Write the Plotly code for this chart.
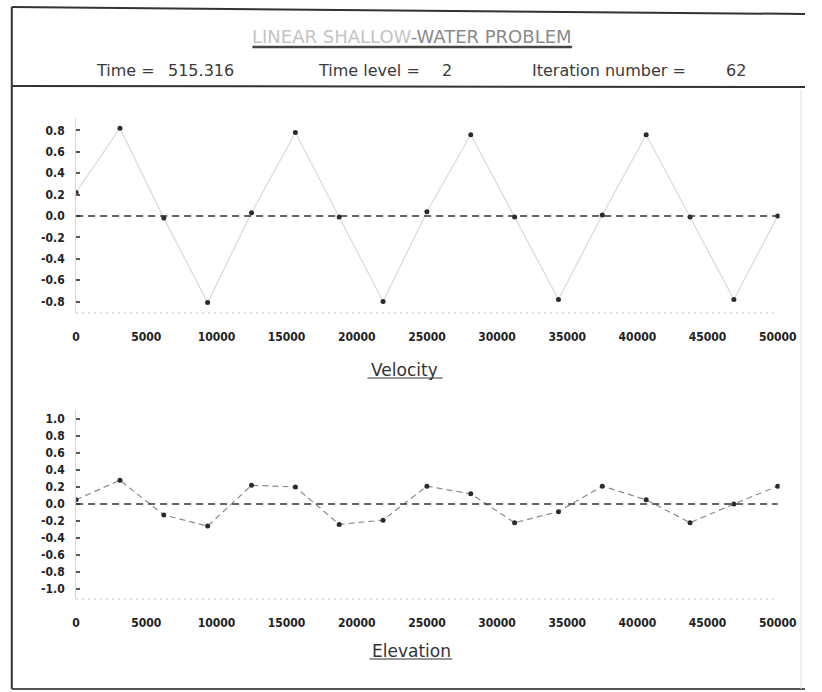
import plotly.graph_objects as go

# ---------------- data ----------------
x_nodes = [0, 3125, 6250, 9375, 12500, 15625, 18750, 21875, 25000,
           28125, 31250, 34375, 37500, 40625, 43750, 46875, 50000]
velocity = [0.22, 0.82, -0.02, -0.81, 0.03, 0.78, -0.01, -0.80, 0.04,
            0.76, -0.01, -0.78, 0.01, 0.76, -0.01, -0.78, 0.00]
elevation = [0.05, 0.28, -0.13, -0.26, 0.22, 0.20, -0.24, -0.19, 0.21,
             0.12, -0.22, -0.09, 0.21, 0.05, -0.22, 0.00, 0.21]

x_ticks = [0, 5000, 10000, 15000, 20000, 25000, 30000, 35000, 40000, 45000, 50000]
x_tick_text = ["0", "5000", "10000", "15000", "20000", "25000", "30000",
               "35000", "40000", "45000", "50000"]
v_ticks = [-0.8, -0.6, -0.4, -0.2, 0.0, 0.2, 0.4, 0.6, 0.8]
v_tick_text = ["-0.8", "-0.6", "-0.4", "-0.2", "0.0", "0.2", "0.4", "0.6", "0.8"]
e_ticks = [-1.0, -0.8, -0.6, -0.4, -0.2, 0.0, 0.2, 0.4, 0.6, 0.8, 1.0]
e_tick_text = ["-1.0", "-0.8", "-0.6", "-0.4", "-0.2", "0.0", "0.2", "0.4",
               "0.6", "0.8", "1.0"]

title_faint = "LINEAR SHALLOW"
title_dark = "-WATER PROBLEM"
header = [("Time =", 92), ("515.316", 166), ("Time level =", 320), ("2", 447),
          ("Iteration number =", 540), ("62", 739)]

# ---------------- geometry helpers ----------------
W, H = 822, 692
def px(x):
    return x / W
def py(y):
    return 1 - y / H

INK = "#2b2b2b"
TICKFONT = dict(family="DejaVu Sans Condensed", size=12, color="#222222", weight="bold")
TXTFONT = dict(family="DejaVu Sans", size=16, color="#3a3a3a")

fig = go.Figure()

fig.add_trace(go.Scatter(
    x=x_nodes, y=velocity, mode="lines+markers", xaxis="x", yaxis="y",
    line=dict(color="#dadada", width=1.2),
    marker=dict(color=INK, size=5), hoverinfo="skip"))
fig.add_trace(go.Scatter(
    x=x_nodes, y=elevation, mode="lines+markers", xaxis="x2", yaxis="y2",
    line=dict(color="#8c8c8c", width=1.2, dash="6px,4px"),
    marker=dict(color=INK, size=5), hoverinfo="skip"))

xcommon = dict(domain=[px(74), px(796)], range=[0, 50139], tickmode="array",
               tickvals=x_ticks, ticktext=x_tick_text, showgrid=False,
               zeroline=False, showline=False, ticks="", tickfont=TICKFONT,
               ticklabelstandoff=15, fixedrange=True)
ycommon = dict(showgrid=False, zeroline=False, showline=True, linecolor="#d4d4d4",
               linewidth=1, ticks="inside", ticklen=4, tickwidth=2,
               tickcolor="#555555", tickfont=TICKFONT, ticklabelstandoff=8,
               tickmode="array", fixedrange=True)

fig.update_layout(
    width=W, height=H, margin=dict(l=0, r=0, t=0, b=0),
    paper_bgcolor="white", plot_bgcolor="white", showlegend=False,
    xaxis=dict(anchor="y", **xcommon),
    yaxis=dict(anchor="x", domain=[py(313), py(118)], range=[-0.907, 0.916],
               tickvals=v_ticks, ticktext=v_tick_text, **ycommon),
    xaxis2=dict(anchor="y2", **xcommon),
    yaxis2=dict(anchor="x2", domain=[py(599), py(410)], range=[-1.118, 1.106],
                tickvals=e_ticks, ticktext=e_tick_text, **ycommon),
)

shapes = []
# zero reference lines
for xr, yr in (("x", "y"), ("x2", "y2")):
    shapes.append(dict(type="line", xref=xr, yref=yr, x0=0, x1=50000, y0=0, y1=0,
                       line=dict(color="#333333", width=1.6, dash="7px,5px")))
    shapes.append(dict(type="line", xref=xr, yref=yr + " domain", x0=0, x1=50000,
                       y0=0, y1=0, line=dict(color="#bdbdbd", width=1.2, dash="2px,4px")))

# frame of the printout
def pline(x0, y0, x1, y1, color="#333333", width=2):
    shapes.append(dict(type="line", xref="paper", yref="paper",
                       x0=px(x0), y0=py(y0), x1=px(x1), y1=py(y1),
                       line=dict(color=color, width=width)))

pline(8, 7, 822, 14)          # top
pline(8, 86, 822, 87)         # header separator
pline(8, 7, 8, 689)           # left
pline(8, 689, 822, 689, "#555555", 2)  # bottom
pline(818, 90, 818, 689, "#dddddd", 1)  # faint right edge
pline(255, 47, 583, 47, "#444444", 2.5)  # title underline
pline(373, 378, 450, 378, "#333333", 1.2)  # Velocity underline
pline(375, 659, 460, 659, "#333333", 1.2)  # Elevation underline
fig.update_layout(shapes=shapes)

ann = []
ann.append(dict(x=px(419), y=py(37), xref="paper", yref="paper", showarrow=False,
                xanchor="center", yanchor="middle",
                text=f"<span style='color:#c4c4c4'>{title_faint}</span>"
                     f"<span style='color:#8a8a8a'>{title_dark}</span>",
                font=dict(family="DejaVu Sans", size=18, color="#999999")))
for txt, xl in header:
    ann.append(dict(x=px(xl), y=py(70), xref="paper", yref="paper", showarrow=False,
                    xanchor="left", yanchor="middle", text=txt, font=TXTFONT))
ann.append(dict(x=px(411), y=py(370), xref="paper", yref="paper", showarrow=False,
                xanchor="center", yanchor="middle", text="Velocity",
                font=dict(family="DejaVu Sans", size=17, color="#333333")))
ann.append(dict(x=px(418), y=py(651), xref="paper", yref="paper", showarrow=False,
                xanchor="center", yanchor="middle", text="Elevation",
                font=dict(family="DejaVu Sans", size=17, color="#333333")))
fig.update_layout(annotations=ann)

fig.write_html("out.html")
